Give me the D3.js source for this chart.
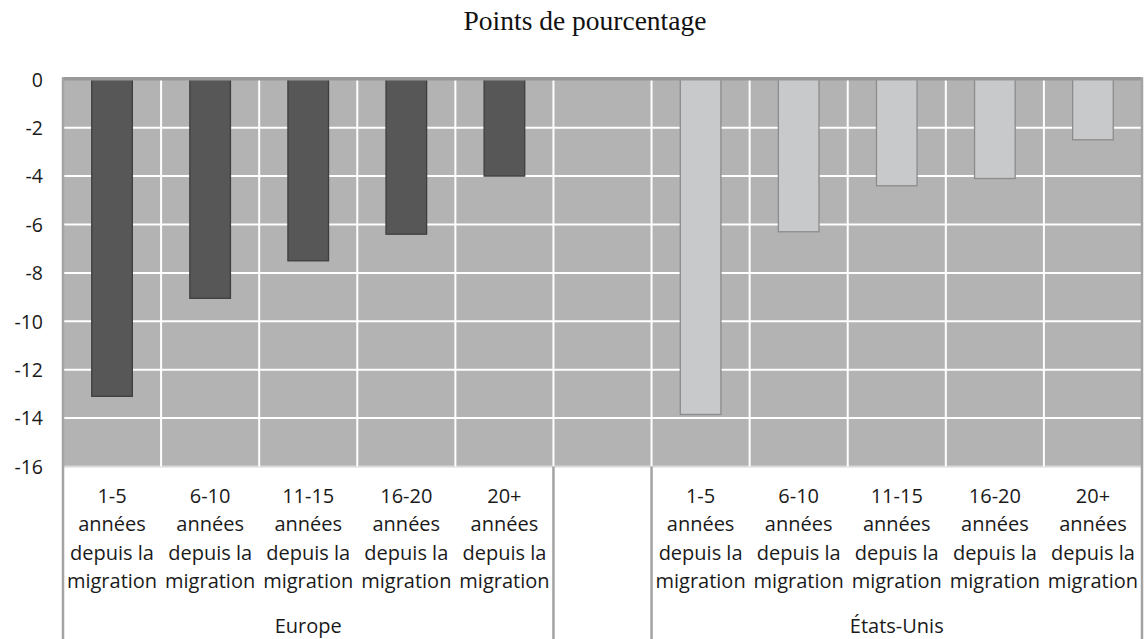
<!DOCTYPE html>
<html><head><meta charset="utf-8">
<script src="https://cdn.jsdelivr.net/npm/d3@7"></script>
<style>html,body{margin:0;padding:0;background:#fff;}svg{display:block;}</style>
</head><body>
<svg id="chart" width="1144" height="639"></svg>
<script>
const title = "Points de pourcentage";
const groups = ["Europe", "États-Unis"];
const periods = ["1-5", "6-10", "11-15", "16-20", "20+"];
const labelLines = ["années", "depuis la", "migration"];
const europe = [-13.1, -9.05, -7.5, -6.4, -4.0];
const usa = [-13.85, -6.3, -4.4, -4.1, -2.5];
const yTicks = [0, -2, -4, -6, -8, -10, -12, -14, -16];

const svg = d3.select("#chart");
const W = 1144, H = 639;
const m = {left: 63, right: 2, top: 79.3, bottom: 172.5};
const plotW = W - m.left - m.right, plotH = H - m.top - m.bottom;

const slots = [...periods.map((p,i)=>"E"+i), "gap", ...periods.map((p,i)=>"U"+i)];
const x = d3.scaleBand().domain(slots).range([m.left, m.left + plotW]).paddingInner(0).paddingOuter(0);
const y = d3.scaleLinear().domain([0, -16]).range([m.top, m.top + plotH]);

const bars = [
  ...europe.map((v,i)=>({key:"E"+i, v, g:0})),
  ...usa.map((v,i)=>({key:"U"+i, v, g:1}))
];

// plot background
svg.append("rect").attr("x", m.left).attr("y", y(0)).attr("width", plotW).attr("height", y(-16)-y(0)).attr("fill", "#b3b3b3");

// horizontal gridlines
svg.append("g").selectAll("line").data(yTicks.filter(d=>d!==0)).join("line")
  .attr("x1", m.left).attr("x2", m.left + plotW)
  .attr("y1", d=>y(d)).attr("y2", d=>y(d))
  .attr("stroke", d => d===-16 ? "#d8d8d8" : "#ffffff").attr("stroke-width", 2);

// vertical gridlines at slot boundaries
svg.append("g").selectAll("line").data(slots.slice(1)).join("line")
  .attr("x1", d=>x(d)).attr("x2", d=>x(d))
  .attr("y1", y(0)).attr("y2", y(-16))
  .attr("stroke", "#ffffff").attr("stroke-width", 2);

// bars
const bw = x.bandwidth() * 0.414;
svg.append("g").selectAll("rect").data(bars).join("rect")
  .attr("x", d=>x(d.key) + (x.bandwidth()-bw)/2)
  .attr("y", y(0))
  .attr("width", bw)
  .attr("height", d=>y(d.v)-y(0))
  .attr("fill", d=>d.g===0 ? "#575757" : "#c8c9cb")
  .attr("stroke", d=>d.g===0 ? "#3e3e3e" : "#8c8c8c")
  .attr("stroke-width", 1.3);

// zero axis line
svg.append("line").attr("x1", m.left).attr("x2", m.left+plotW).attr("y1", y(0)-0.5).attr("y2", y(0)-0.5)
  .attr("stroke", "#999999").attr("stroke-width", 3.5);

// left border and dividers in label area
const divX = [m.left, x("gap"), x("U0"), m.left + plotW];
svg.append("g").selectAll("line").data(divX).join("line")
  .attr("x1", d=>d).attr("x2", d=>d)
  .attr("y1", (d,i)=> (i===0||i===3) ? y(0)-2 : y(-16)).attr("y2", H)
  .attr("stroke", "#a3a3a3").attr("stroke-width", 2.5);

// y axis labels
const yAxis = d3.axisLeft(y).tickValues(yTicks).tickSize(0).tickPadding(0).tickFormat(d=>d3.format("d")(d).replace("−","-"));
const ya = svg.append("g").attr("transform", `translate(43,0)`).call(yAxis);
ya.select(".domain").remove();
ya.selectAll("text").attr("font-family", "'Open Sans', sans-serif").attr("font-size", 19.5).attr("fill", "#1a1a1a").attr("dy", "0.35em");

// category labels
const catG = svg.append("g").attr("font-family", "'Open Sans', sans-serif").attr("font-size", 20).attr("fill", "#1a1a1a").attr("text-anchor", "middle");
bars.forEach(d => {
  const cx = x(d.key) + x.bandwidth()/2;
  const lines = [periods[+d.key.slice(1)], ...labelLines];
  lines.forEach((t, j) => {
    catG.append("text").attr("x", cx).attr("y", 503 + j*28.3).text(t);
  });
});

// group labels
const gStart = [x("E0"), x("U0")];
groups.forEach((g, i) => {
  const cx = gStart[i] + x.bandwidth()*2.5;
  catG.append("text").attr("x", cx).attr("y", 633).text(g);
});

// title
svg.append("text").attr("x", 585).attr("y", 30).attr("text-anchor", "middle")
  .attr("font-family", "'Liberation Serif', 'Times New Roman', serif").attr("font-size", 27.5).attr("fill", "#111").text(title);
</script>
</body></html>
